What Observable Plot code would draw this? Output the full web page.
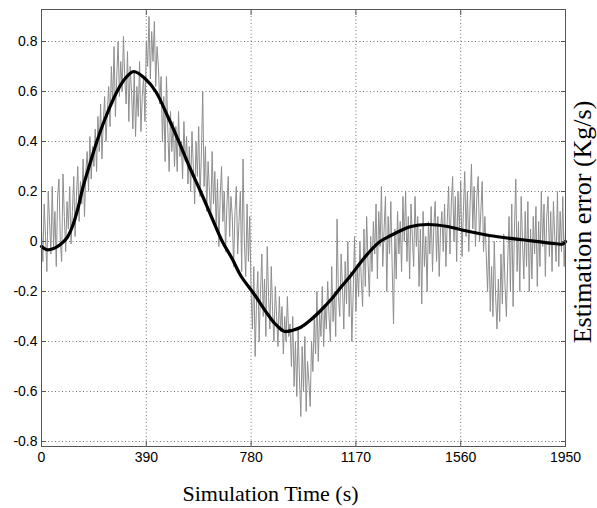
<!DOCTYPE html>
<html>
<head>
<meta charset="utf-8">
<script src="https://cdn.jsdelivr.net/npm/d3@7"></script>
<script src="https://cdn.jsdelivr.net/npm/@observablehq/plot@0.6"></script>
<style>
  html, body { margin: 0; padding: 0; background: #fff; }
  #chart svg { display: block; }
</style>
</head>
<body>
<div id="chart"></div>
<script>
// Sampling step of the noisy error signal (s)
const sampleStep = 5;
const simEnd = 1950;

// Noisy estimation error (gray), one value per 5 s from 0 to 1950 s
const measured = [
  0.05, -0.08, 0.15, 0.02, -0.12, 0.2, 0.08, -0.05, 0.22, -0.02,
  0.12, -0.1, 0.18, 0.25, 0.0, -0.08, 0.27, 0.1, -0.04, 0.16,
  0.05, 0.22, -0.01, 0.12, 0.26, 0.02, 0.18, 0.3, 0.08, 0.24,
  0.15, 0.33, 0.1, 0.28, 0.36, 0.2, 0.42, 0.25, 0.38, 0.3,
  0.45, 0.28, 0.5, 0.36, 0.55, 0.33, 0.48, 0.58, 0.4, 0.52,
  0.62, 0.46, 0.7, 0.55, 0.78, 0.5, 0.66, 0.8, 0.58, 0.72,
  0.6, 0.82, 0.65, 0.55, 0.76, 0.48, 0.7, 0.6, 0.45, 0.68,
  0.42, 0.62, 0.5, 0.72, 0.44, 0.58, 0.66, 0.48, 0.8, 0.7,
  0.9, 0.65, 0.84, 0.72, 0.88, 0.62, 0.78, 0.7, 0.55, 0.66,
  0.4, 0.58, 0.32, 0.66, 0.45, 0.28, 0.52, 0.36, 0.48, 0.3,
  0.46, 0.28, 0.52, 0.34, 0.4, 0.25, 0.48, 0.32, 0.42, 0.23,
  0.38, 0.2, 0.44, 0.3, 0.15, 0.4, 0.26, 0.46, 0.18, 0.35,
  0.6, 0.22, 0.38, 0.12, 0.32, 0.2, 0.1, 0.36, 0.15, 0.28,
  0.05, 0.25, -0.02, 0.18, 0.3, 0.08, 0.2, -0.04, 0.15, 0.26,
  0.02, 0.18, 0.1, -0.1, 0.12, 0.22, -0.05, 0.08, 0.2, -0.12,
  0.33, 0.0, -0.14, 0.15, -0.08, 0.1, -0.2, -0.35, -0.1, -0.46,
  -0.25, -0.12, -0.4, -0.2, -0.05, -0.3, -0.15, -0.38, -0.02, -0.22,
  -0.35, -0.1, -0.28, -0.4, -0.18, -0.3, -0.42, -0.22, -0.36, -0.26,
  -0.45, -0.3, -0.4, -0.22, -0.38, -0.33, -0.5, -0.3, -0.58, -0.4,
  -0.62, -0.35, -0.55, -0.7, -0.42, -0.6, -0.38, -0.68, -0.48, -0.56,
  -0.66, -0.4, -0.52, -0.3, -0.45, -0.2, -0.48, -0.28, -0.38, -0.18,
  -0.42, -0.25, -0.35, -0.16, -0.3, -0.4, -0.1, -0.32, -0.2, -0.38,
  0.09, -0.22, -0.3, -0.05, -0.18, -0.35, -0.08, -0.25, 0.0, -0.3,
  -0.12, -0.4, -0.2, 0.02, -0.28, -0.1, -0.22, 0.0, -0.15, -0.26,
  0.05, -0.18, 0.1, -0.08, -0.22, 0.02, -0.12, 0.08, -0.05, 0.15,
  -0.15, 0.12, -0.02, 0.22, -0.1, 0.05, 0.18, -0.2, 0.1, -0.05,
  0.16, -0.1, -0.33, 0.05, -0.15, 0.12, -0.05, 0.08, -0.12, 0.18,
  0.0, 0.2, -0.08, 0.1, -0.15, 0.15, 0.02, -0.1, 0.18, -0.02,
  0.1, -0.18, 0.05, -0.25, 0.12, -0.1, 0.02, -0.2, 0.08, -0.05,
  0.14, -0.12, 0.06, 0.16, -0.08, 0.1, -0.14, 0.05, 0.12, -0.04,
  0.15, -0.1, 0.08, 0.22, -0.05, 0.15, 0.26, 0.0, 0.18, -0.08,
  0.2, 0.05, 0.24, -0.06, 0.12, 0.28, 0.02, 0.2, -0.04, 0.15,
  0.31, 0.05, 0.22, -0.02, 0.18, 0.26, 0.0, 0.12, 0.24, -0.04,
  0.1, -0.05, -0.2, 0.02, -0.28, -0.1, -0.3, 0.0, -0.22, -0.35,
  -0.15, -0.32, -0.05, -0.25, 0.03, -0.18, -0.3, -0.08, 0.1, -0.2,
  0.15, -0.26, 0.05, 0.25, -0.12, 0.08, -0.2, 0.18, 0.0, -0.15,
  0.12, -0.1, 0.16, -0.2, 0.05, -0.15, 0.1, -0.05, 0.14, -0.18,
  0.08, -0.1, 0.2, -0.02, 0.15, -0.14, 0.1, 0.18, -0.06, 0.12,
  -0.12, 0.16, 0.02, -0.08, 0.2, -0.1, 0.12, -0.04, 0.18, -0.1,
  0.05
];

// Smoothed estimation error (black)
const smoothTime = [0, 20, 45, 70, 95, 115, 135, 155, 180, 206, 240, 281, 310, 343, 387, 425, 470, 511, 550, 592, 632, 673, 710, 741, 791, 841, 870, 903, 935, 965, 1000, 1039, 1075, 1114, 1151, 1188, 1225, 1260, 1300, 1340, 1375, 1437, 1511, 1561, 1666, 1790, 1915, 1940, 1950];
const smoothErr  = [-0.02, -0.033, -0.028, -0.012, 0.015, 0.06, 0.13, 0.22, 0.31, 0.4, 0.5, 0.6, 0.65, 0.68, 0.65, 0.6, 0.5, 0.4, 0.3, 0.2, 0.1, 0, -0.07, -0.136, -0.21, -0.29, -0.33, -0.359, -0.355, -0.343, -0.315, -0.276, -0.235, -0.183, -0.136, -0.083, -0.036, 0.0, 0.024, 0.045, 0.06, 0.068, 0.06, 0.047, 0.024, 0.007, -0.009, -0.01, 0.0];

const xTicks = [0, 390, 780, 1170, 1560, 1950];
const yTicks = [-0.8, -0.6, -0.4, -0.2, 0, 0.2, 0.4, 0.6, 0.8];
const xTitle = "Simulation Time (s)";
const yTitle = "Estimation error (Kg/s)";

const noisy = measured.map((v, i) => ({t: i * sampleStep, v}));
const smooth = smoothTime.map((t, i) => ({t, v: smoothErr[i]}));

const serif = "'Liberation Serif', 'Times New Roman', serif";

const chart = Plot.plot({
  width: 597,
  height: 508,
  marginLeft: 41,
  marginRight: 32,
  marginTop: 9,
  marginBottom: 62,
  style: {fontFamily: "'Liberation Sans', Arial, sans-serif", fontSize: "13px", color: "#000", background: "#fff"},
  x: {domain: [0, simEnd], axis: null},
  y: {domain: [-0.82, 0.928], axis: null},
  marks: [
    Plot.gridX(xTicks, {stroke: "#333", strokeOpacity: 0.85, strokeWidth: 0.8, strokeDasharray: "1,2.5"}),
    Plot.gridY(yTicks, {stroke: "#333", strokeOpacity: 0.85, strokeWidth: 0.8, strokeDasharray: "1,2.5"}),
    Plot.line(noisy, {x: "t", y: "v", stroke: "#8e8e8e", strokeWidth: 1}),
    Plot.line(smooth, {x: "t", y: "v", stroke: "#000", strokeWidth: 3.2, curve: "catmull-rom"}),
    Plot.frame({stroke: "#555", strokeWidth: 1}),
    Plot.axisX(xTicks, {anchor: "bottom", tickSize: -5, tickFormat: () => "", label: null, stroke: "#555"}),
    Plot.axisX(xTicks, {anchor: "top", tickSize: -5, tickFormat: () => "", label: null, stroke: "#555"}),
    Plot.axisY(yTicks, {anchor: "left", tickSize: -5, tickFormat: () => "", label: null, stroke: "#555"}),
    Plot.axisY(yTicks, {anchor: "right", tickSize: -5, tickFormat: () => "", label: null, stroke: "#555"}),
    Plot.axisX(xTicks, {anchor: "bottom", tickSize: 0, tickPadding: 6, tickFormat: d => String(d), label: null, fontSize: 14}),
    Plot.axisY(yTicks, {anchor: "left", tickSize: 0, tickPadding: 4, tickFormat: d => String(d), label: null, fontSize: 14}),
    Plot.text([xTitle], {frameAnchor: "bottom", textAnchor: "middle", lineAnchor: "middle", dx: -33, dy: 47, text: d => d, fontFamily: serif, fontSize: 22, fill: "#000"}),
    Plot.text([yTitle], {frameAnchor: "right", textAnchor: "middle", lineAnchor: "middle", rotate: -90, dx: 17, dy: -6, text: d => d, fontFamily: serif, fontSize: 26, fill: "#000"})
  ]
});
document.getElementById("chart").appendChild(chart);
</script>
</body>
</html>
